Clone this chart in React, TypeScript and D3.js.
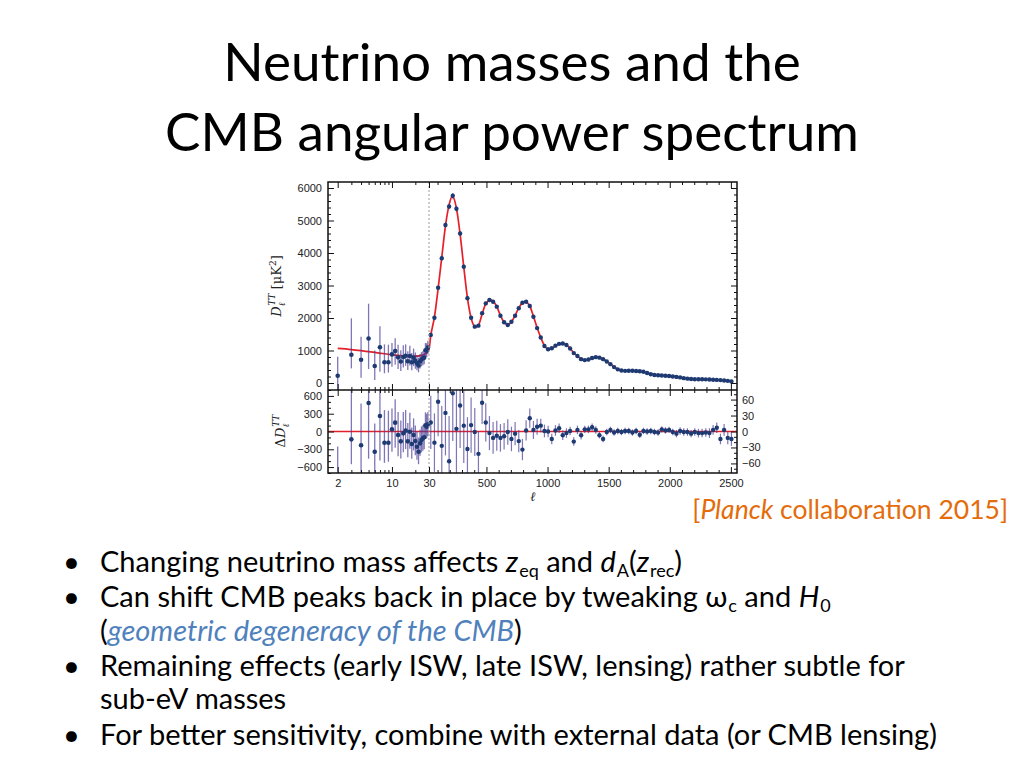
import React, { useEffect, useRef } from "react";
import * as d3 from "d3";

// low-ell points (2..29), upper panel in muK^2
const lowEll = [2, 3, 4, 5, 6, 7, 8, 9, 10, 11, 12, 13, 14, 15, 16, 17, 18, 19, 20, 21, 22, 23, 24, 25, 26, 27, 28, 29];
const lowD = [225, 870, 715, 1370, 525, 1100, 640, 640, 880, 985, 790, 660, 800, 840, 670, 830, 640, 780, 680, 610, 540, 660, 720, 760, 780, 1010, 1000, 1090];
const lowErrUp = [585, 1120, 705, 1070, 475, 650, 550, 540, 350, 395, 390, 350, 360, 350, 310, 320, 280, 280, 260, 250, 240, 230, 230, 220, 220, 220, 220, 210];
const lowErrDown = [525, 420, 555, 940, 435, 750, 340, 320, 380, 425, 360, 290, 320, 310, 270, 290, 250, 260, 240, 220, 210, 210, 210, 210, 200, 210, 200, 200];
const lowRes = [-840, -132, -233, 481, -341, 262, -189, -189, 37, 149, -59, -166, -31, 14, -166, -3, -211, -59, -160, -256, -341, -200, -143, -115, -98, 104, 81, 120];

// binned high-ell points
const highEll = [
  44.5, 74.5, 104.5, 134.5, 164.5, 194.5, 224.5, 254.5, 284.5, 314.5,
  344.5, 374.5, 404.5, 434.5, 464.5, 494.5, 524.5, 554.5, 584.5, 614.5,
  644.5, 674.5, 704.5, 734.5, 764.5, 794.5, 824.5, 854.5, 884.5, 914.5,
  944.5, 974.5, 1004.5, 1034.5, 1064.5, 1094.5, 1124.5, 1154.5, 1184.5, 1214.5,
  1244.5, 1274.5, 1304.5, 1334.5, 1364.5, 1394.5, 1424.5, 1454.5, 1484.5, 1514.5,
  1544.5, 1574.5, 1604.5, 1634.5, 1664.5, 1694.5, 1724.5, 1754.5, 1784.5, 1814.5,
  1844.5, 1874.5, 1904.5, 1934.5, 1964.5, 1994.5, 2024.5, 2054.5, 2084.5, 2114.5,
  2144.5, 2174.5, 2204.5, 2234.5, 2264.5, 2294.5, 2324.5, 2354.5, 2384.5, 2414.5,
  2444.5, 2474.5, 2504.5,
];
const highD = [
  1480, 2010, 2930, 3840, 4860, 5430, 5760, 5360, 4600, 3580,
  2610, 2010, 1735, 1765, 2150, 2450, 2555, 2500, 2350, 2070,
  1870, 1785, 1885, 2070, 2300, 2470, 2500, 2370, 2040, 1690,
  1400, 1140, 1040, 1070, 1150, 1205, 1215, 1170, 1060, 920,
  830, 735, 705, 725, 770, 795, 780, 735, 660, 580,
  490, 420, 385, 375, 378, 376, 370, 360, 345, 310,
  270, 248, 240, 232, 225, 218, 200, 188, 172, 150,
  135, 124, 116, 114, 114, 112, 108, 102, 96, 90,
  78, 66, 45,
];
const highRes = [
  17, -21, 56, -27, 35, -56, 72, 5, 49, 11,
  -33, 12, -1, -42, 54, 17, -3, -12, -8, -12,
  -9, -1, -14, -4, -18, -34, 2, 25, 3, 9,
  11, 1, 0, -14, 2, 6, -7, -3, 1, -19,
  3, -7, 4, 4, 8, 3, -7, -14, -1, 3,
  -2, 1, -1, 1, 1, -2, 1, -6, 1, 0,
  1, -1, -2, 4, 2, 3, -1, -4, 1, -1,
  -1, -4, -1, -3, -3, -2, -3, 3, 7, -14,
  3, -12, -14,
];
const highErr = [
  50, 55, 65, 75, 80, 85, 90, 85, 80, 70,
  60, 52, 45, 42, 40, 36, 32, 30, 28, 26,
  25, 24, 23, 22, 21, 20, 19, 18, 17, 15,
  13, 12, 11, 10, 10, 9, 9, 9, 8, 8,
  8, 8, 7, 7, 7, 7, 6, 6, 6, 6,
  6, 6, 6, 6, 6, 6, 6, 6, 6, 6,
  6, 6, 6, 6, 6, 6, 6, 7, 7, 7,
  7, 7, 7, 8, 8, 8, 9, 9, 10, 10,
  11, 12, 13,
];

// best-fit LCDM curve
const modelEll = [
  2, 3, 4, 5, 6, 8, 10, 13, 16, 20, 24, 27, 29, 30,
  44.5, 74.5, 104.5, 134.5, 164.5, 194.5, 220, 254.5, 284.5, 314.5,
  344.5, 374.5, 410, 434.5, 464.5, 494.5, 535, 554.5, 584.5, 614.5,
  644.5, 675, 704.5, 734.5, 764.5, 794.5, 815, 854.5, 884.5, 914.5,
  944.5, 974.5, 1010, 1034.5, 1064.5, 1094.5, 1124.5, 1154.5, 1184.5, 1214.5,
  1244.5, 1274.5, 1310, 1334.5, 1364.5, 1400, 1424.5, 1454.5, 1484.5, 1514.5,
  1544.5, 1574.5, 1610, 1650, 1700, 1750, 1800, 1850, 1900, 1950,
  2000, 2050, 2100, 2150, 2200, 2250, 2300, 2350, 2400, 2450, 2500,
];
const modelD = [
  1065, 1030, 995, 965, 940, 900, 870, 840, 825, 825, 850, 900, 980, 1040,
  1460, 2030, 2900, 3870, 4830, 5480, 5740, 5380, 4580, 3570,
  2620, 2000, 1725, 1775, 2120, 2440, 2560, 2520, 2350, 2080,
  1870, 1790, 1880, 2080, 2310, 2470, 2500, 2370, 2050, 1700,
  1400, 1150, 1040, 1060, 1140, 1200, 1215, 1170, 1065, 925,
  830, 740, 705, 722, 765, 795, 785, 740, 665, 580,
  495, 425, 385, 375, 375, 360, 325, 275, 245, 232,
  218, 195, 165, 138, 118, 114, 110, 102, 93, 78, 50,
];

const topTicks = [0, 1000, 2000, 3000, 4000, 5000, 6000];
const resLeftTicks = [-600, -300, 0, 300, 600];
const resRightTicks = [-60, -30, 0, 30, 60];
const logLabelTicks = [2, 10, 30];
const linLabelTicks = [500, 1000, 1500, 2000, 2500];

const L = 328, R = 737, T = 182, M = 390, B = 473;

const ptFill = "#1d3a72";
const barColor = "rgba(72, 60, 150, 0.7)";
const red = "#e4202a";

function Chart() {
  const gRef = useRef<SVGGElement>(null);

  useEffect(() => {
    const g = d3.select(gRef.current);
    g.selectAll("*").remove();

    const xLog = d3.scaleLog().domain([1.5, 30]).range([L, 429]);
    const xLin = d3.scaleLinear().domain([30, 2550]).range([429, R]);
    const x = (l: number) => (l <= 30 ? xLog(l) : xLin(l));
    const yTop = d3.scaleLinear().domain([-215, 6185]).range([M, T]);
    const yResL = d3.scaleLinear().domain([-700, 700]).range([B, M]);
    const yResR = d3.scaleLinear().domain([-78, 78]).range([B, M]);

    const defs = g.append("defs");
    defs.append("clipPath").attr("id", "clipTop")
      .append("rect").attr("x", L).attr("y", T).attr("width", R - L).attr("height", M - T);
    defs.append("clipPath").attr("id", "clipRes")
      .append("rect").attr("x", L).attr("y", M).attr("width", R - L).attr("height", B - M);

    // ---- upper panel
    const up = g.append("g").attr("clip-path", "url(#clipTop)");
    const line = d3.line<number>()
      .x((_, i) => x(modelEll[i]))
      .y((d) => yTop(d))
      .curve(d3.curveMonotoneX);
    up.append("path").attr("d", line(modelD)).attr("fill", "none")
      .attr("stroke", red).attr("stroke-width", 1.7);

    up.selectAll(".lowbar").data(lowD).enter().append("line")
      .attr("x1", (_, i) => x(lowEll[i])).attr("x2", (_, i) => x(lowEll[i]))
      .attr("y1", (d, i) => yTop(d - lowErrDown[i])).attr("y2", (d, i) => yTop(d + lowErrUp[i]))
      .attr("stroke", barColor).attr("stroke-width", 1.3);
    up.selectAll(".highbar").data(highD).enter().append("line")
      .attr("x1", (_, i) => x(highEll[i])).attr("x2", (_, i) => x(highEll[i]))
      .attr("y1", (d, i) => yTop(d - highErr[i])).attr("y2", (d, i) => yTop(d + highErr[i]))
      .attr("stroke", barColor).attr("stroke-width", 1.2);

    up.selectAll(".lowpt").data(lowD).enter().append("circle")
      .attr("cx", (_, i) => x(lowEll[i])).attr("cy", (d) => yTop(d))
      .attr("r", 2.3).attr("fill", ptFill);
    up.selectAll(".highpt").data(highD).enter().append("circle")
      .attr("cx", (_, i) => x(highEll[i])).attr("cy", (d) => yTop(d))
      .attr("r", 2.2).attr("fill", ptFill);

    // ---- residual panel
    const lo = g.append("g").attr("clip-path", "url(#clipRes)");
    lo.append("line").attr("x1", L).attr("x2", R)
      .attr("y1", yResL(0)).attr("y2", yResL(0))
      .attr("stroke", red).attr("stroke-width", 1.7);

    lo.selectAll(".lowrbar").data(lowRes).enter().append("line")
      .attr("x1", (_, i) => x(lowEll[i])).attr("x2", (_, i) => x(lowEll[i]))
      .attr("y1", (d, i) => yResL(d - lowErrDown[i])).attr("y2", (d, i) => yResL(d + lowErrUp[i]))
      .attr("stroke", barColor).attr("stroke-width", 1.3);
    lo.selectAll(".highrbar").data(highRes).enter().append("line")
      .attr("x1", (_, i) => x(highEll[i])).attr("x2", (_, i) => x(highEll[i]))
      .attr("y1", (d, i) => yResR(d - highErr[i])).attr("y2", (d, i) => yResR(d + highErr[i]))
      .attr("stroke", barColor).attr("stroke-width", 1.2);

    lo.selectAll(".lowrpt").data(lowRes).enter().append("circle")
      .attr("cx", (_, i) => x(lowEll[i])).attr("cy", (d) => yResL(d))
      .attr("r", 2.3).attr("fill", ptFill);
    lo.selectAll(".highrpt").data(highRes).enter().append("circle")
      .attr("cx", (_, i) => x(highEll[i])).attr("cy", (d) => yResR(d))
      .attr("r", 2.2).attr("fill", ptFill);

    // dashed separator at ell = 30
    g.append("line").attr("x1", x(30)).attr("x2", x(30)).attr("y1", T).attr("y2", B)
      .attr("stroke", "#9a9a9a").attr("stroke-width", 1).attr("stroke-dasharray", "2,2");

    // ---- ticks
    const addAxis = (axis: any, tr: string, labels: boolean) => {
      const a = g.append("g").attr("transform", tr).call(axis);
      a.select(".domain").remove();
      a.selectAll(".tick line").attr("stroke", "#111");
      a.selectAll("text")
        .attr("font-family", "Liberation Sans, Arial, sans-serif")
        .attr("font-size", 11).attr("fill", "#222");
      if (!labels) a.selectAll("text").remove();
    };
    const minorLin = d3.range(100, 2501, 100).filter((v) => v % 500 !== 0);
    const logMinor = [3, 4, 5, 6, 7, 8, 9, 20];

    // x ticks on each horizontal edge
    const xEdges: [number, "top" | "bottom"][] = [[T, "top"], [M, "bottom"], [M, "top"], [B, "bottom"]];
    xEdges.forEach(([yy, side], idx) => {
      const mk = (sc: any) => (side === "top" ? d3.axisTop(sc) : d3.axisBottom(sc));
      const isLabelled = idx === 3;
      addAxis(mk(xLog).tickValues(logLabelTicks).tickSize(-6).tickPadding(6).tickFormat(d3.format("d")), `translate(0,${yy})`, isLabelled);
      addAxis(mk(xLog).tickValues(logMinor).tickSize(-3).tickFormat(() => ""), `translate(0,${yy})`, false);
      addAxis(mk(xLin).tickValues(linLabelTicks).tickSize(-6).tickPadding(6).tickFormat(d3.format("d")), `translate(0,${yy})`, isLabelled);
      addAxis(mk(xLin).tickValues(minorLin).tickSize(-3).tickFormat(() => ""), `translate(0,${yy})`, false);
    });

    // upper y ticks
    addAxis(d3.axisLeft(yTop).tickValues(topTicks).tickSize(-6).tickPadding(6).tickFormat(d3.format("d")), `translate(${L},0)`, true);
    addAxis(d3.axisLeft(yTop).tickValues(d3.range(200, 6001, 200).filter((v) => v % 1000 !== 0)).tickSize(-3), `translate(${L},0)`, false);
    addAxis(d3.axisRight(yTop).tickValues(topTicks).tickSize(-6), `translate(${R},0)`, false);
    addAxis(d3.axisRight(yTop).tickValues(d3.range(200, 6001, 200).filter((v) => v % 1000 !== 0)).tickSize(-3), `translate(${R},0)`, false);

    // residual y ticks
    addAxis(d3.axisLeft(yResL).tickValues(resLeftTicks).tickSize(-6).tickPadding(6).tickFormat(d3.format("d")), `translate(${L},0)`, true);
    addAxis(d3.axisLeft(yResL).tickValues(d3.range(-700, 701, 100).filter((v) => v % 300 !== 0)).tickSize(-3), `translate(${L},0)`, false);
    addAxis(d3.axisRight(yResR).tickValues(resRightTicks).tickSize(-6).tickPadding(5).tickFormat(d3.format("d")), `translate(${R},0)`, true);
    addAxis(d3.axisRight(yResR).tickValues(d3.range(-70, 71, 10).filter((v) => v % 30 !== 0)).tickSize(-3), `translate(${R},0)`, false);

    // frame
    g.append("rect").attr("x", L).attr("y", T).attr("width", R - L).attr("height", B - T)
      .attr("fill", "none").attr("stroke", "#111").attr("stroke-width", 1.5);
    g.append("line").attr("x1", L).attr("x2", R).attr("y1", M).attr("y2", M)
      .attr("stroke", "#111").attr("stroke-width", 1.5);
  }, []);

  return <g ref={gRef} />;
}

const txt = "Lato, 'Open Sans', sans-serif";
const blue = "#4f81bd";

export default function App() {
  return (
    <svg width={1024} height={768} style={{ position: "absolute", left: 0, top: 0, background: "#fff" }}>
      <text x={512} y={81} textAnchor="middle" fontFamily={txt} fontSize={53} fill="#000">
        Neutrino masses and the
      </text>
      <text x={512} y={151} textAnchor="middle" fontFamily={txt} fontSize={53} fill="#000">
        CMB angular power spectrum
      </text>

      <Chart />

      {/* axis labels */}
      <text transform="translate(281,286) rotate(-90)" textAnchor="middle" fontFamily="DejaVu Serif, serif" fontSize={13} fill="#222">
        <tspan fontStyle="italic">D</tspan>
        <tspan fontSize={9} dy={4} fontStyle="italic">ℓ</tspan>
        <tspan fontSize={9} dy={-10} dx={-3} fontStyle="italic">TT</tspan>
        <tspan dy={6}> [μK</tspan>
        <tspan fontSize={9} dy={-5}>2</tspan>
        <tspan dy={5}>]</tspan>
      </text>
      <text transform="translate(285,431) rotate(-90)" textAnchor="middle" fontFamily="DejaVu Serif, serif" fontSize={13} fill="#222">
        <tspan>Δ</tspan>
        <tspan fontStyle="italic">D</tspan>
        <tspan fontSize={9} dy={4} fontStyle="italic">ℓ</tspan>
        <tspan fontSize={9} dy={-10} dx={-3} fontStyle="italic">TT</tspan>
      </text>
      <text x={533} y={501} textAnchor="middle" fontFamily="DejaVu Serif, serif" fontStyle="italic" fontSize={13} fill="#222">
        ℓ
      </text>

      {/* citation */}
      <text x={1008} y={519} textAnchor="end" fontFamily={txt} fontSize={26.5} fill="#e46c0a">
        [<tspan fontStyle="italic">Planck</tspan> collaboration 2015]
      </text>

      {/* bullets */}
      <g fontFamily={txt} fontSize={29} fill="#000">
        <text x={63} y={572}>•</text>
        <text x={100} y={572}>
          Changing neutrino mass affects <tspan fontStyle="italic">z</tspan>
          <tspan fontSize={18} dx={1} baselineShift="-5">eq</tspan>
          <tspan> and </tspan>
          <tspan fontStyle="italic">d</tspan>
          <tspan fontSize={18} dx={1} baselineShift="-5">A</tspan>
          <tspan>(</tspan>
          <tspan fontStyle="italic">z</tspan>
          <tspan fontSize={18} dx={1} baselineShift="-5">rec</tspan>
          <tspan>)</tspan>
        </text>
        <text x={63} y={607}>•</text>
        <text x={100} y={607}>
          Can shift CMB peaks back in place by tweaking ω
          <tspan fontSize={18} dx={1} baselineShift="-5">c</tspan>
          <tspan> and </tspan>
          <tspan fontStyle="italic">H</tspan>
          <tspan fontSize={18} dx={1} baselineShift="-5">0</tspan>
        </text>
        <text x={100} y={641}>
          (<tspan fontStyle="italic" fill={blue}>geometric degeneracy of the CMB</tspan>)
        </text>
        <text x={63} y={676}>•</text>
        <text x={100} y={676}>Remaining effects (early ISW, late ISW, lensing) rather subtle for</text>
        <text x={100} y={709}>sub-eV masses</text>
        <text x={63} y={745}>•</text>
        <text x={100} y={745}>For better sensitivity, combine with external data (or CMB lensing)</text>
      </g>
    </svg>
  );
}
